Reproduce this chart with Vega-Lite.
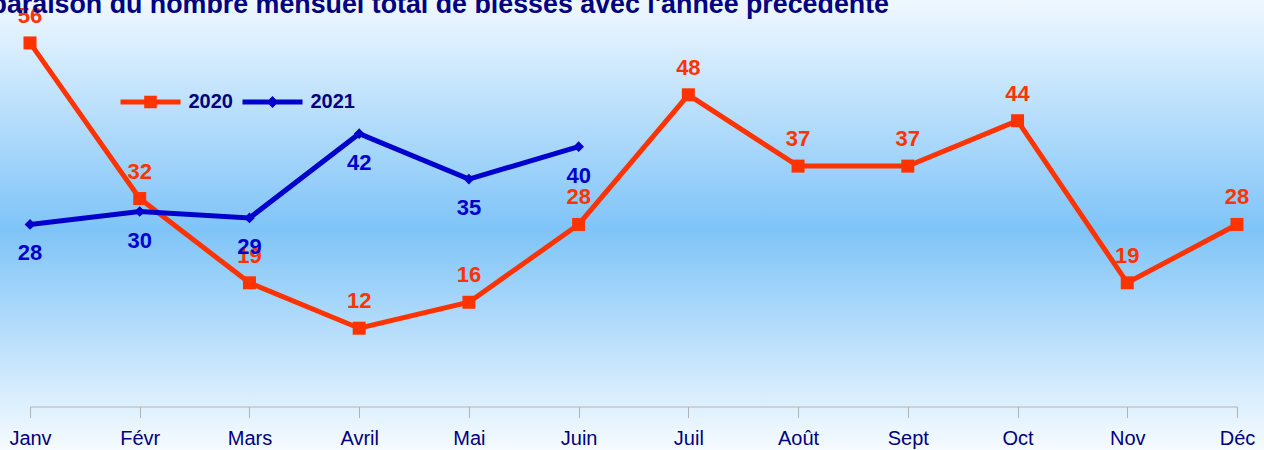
{
  "$schema": "https://vega.github.io/schema/vega-lite/v6.json",
  "width": 1264,
  "height": 450,
  "autosize": {"type": "none"},
  "padding": 0,
  "background": "#f0f8ff",
  "config": {"view": {"stroke": null}, "font": "Liberation Sans"},
  "title": {
    "text": "Comparaison du nombre mensuel total de blessés avec l'année précédente",
    "anchor": "start",
    "frame": "group",
    "dx": -69,
    "dy": 40,
    "offset": 0,
    "baseline": "alphabetic",
    "fontSize": 26.8,
    "fontWeight": "bold",
    "color": "#000080",
    "font": "Liberation Sans",
    "zindex": 2
  },
  "data": {
    "values": [
      {"month": "Janv", "year": "2020", "value": 56},
      {"month": "Févr", "year": "2020", "value": 32},
      {"month": "Mars", "year": "2020", "value": 19},
      {"month": "Avril", "year": "2020", "value": 12},
      {"month": "Mai", "year": "2020", "value": 16},
      {"month": "Juin", "year": "2020", "value": 28},
      {"month": "Juil", "year": "2020", "value": 48},
      {"month": "Août", "year": "2020", "value": 37},
      {"month": "Sept", "year": "2020", "value": 37},
      {"month": "Oct", "year": "2020", "value": 44},
      {"month": "Nov", "year": "2020", "value": 19},
      {"month": "Déc", "year": "2020", "value": 28},
      {"month": "Janv", "year": "2021", "value": 28},
      {"month": "Févr", "year": "2021", "value": 30},
      {"month": "Mars", "year": "2021", "value": 29},
      {"month": "Avril", "year": "2021", "value": 42},
      {"month": "Mai", "year": "2021", "value": 35},
      {"month": "Juin", "year": "2021", "value": 40}
    ]
  },
  "layer": [
    {
      "data": {"values": [{}]},
      "mark": {
        "type": "rect",
        "fill": {
          "gradient": "linear",
          "x1": 0, "y1": 0, "x2": 0, "y2": 1,
          "stops": [
            {"offset": 0, "color": "#f0f8ff"},
            {"offset": 0.51, "color": "#7fc4f8"},
            {"offset": 1, "color": "#f6fbff"}
          ]
        }
      },
      "encoding": {}
    },
    {
      "encoding": {
        "x": {
          "field": "month",
          "type": "ordinal",
          "sort": ["Janv", "Févr", "Mars", "Avril", "Mai", "Juin", "Juil", "Août", "Sept", "Oct", "Nov", "Déc"],
          "scale": {"type": "point", "range": [30, 1237], "padding": 0},
          "axis": {
            "title": null,
            "labelAngle": 0,
            "offset": -43.5,
            "zindex": 1,
            "labelFont": "Liberation Sans",
            "labelFontSize": 20,
            "labelColor": "#000080",
            "labelPadding": 11,
            "domainColor": "#b3b3b3",
            "domainWidth": 1,
            "tickColor": "#b3b3b3",
            "tickSize": 11,
            "tickWidth": 1,
            "grid": false
          }
        },
        "y": {
          "field": "value",
          "type": "quantitative",
          "scale": {"domain": [0, 60], "range": [406, 17], "nice": false, "zero": true},
          "axis": null
        }
      },
      "layer": [
        {
          "mark": {"type": "line", "strokeWidth": 5},
          "encoding": {
            "color": {
              "field": "year",
              "type": "nominal",
              "scale": {"domain": ["2020", "2021"], "range": ["#ff3300", "#0000cc"]},
              "legend": {
                "title": null,
                "orient": "none",
                "legendX": 120.5,
                "legendY": 72,
                "direction": "horizontal",
                "padding": 0,
                "symbolSize": 3600,
                "labelFont": "Liberation Sans",
                "labelFontSize": 20,
                "labelFontWeight": "bold",
                "labelColor": "#000080",
                "labelOffset": 8,
                "columnPadding": 9,
                "encode": {
                  "symbols": {
                    "update": {
                      "shape": {"signal": "datum.value === '2020' ? 'M-1,-0.083H1V0.083H-1Z M-0.21,-0.21H0.21V0.21H-0.21Z' : 'M-1,-0.083H1V0.083H-1Z M-0.2,0L0,-0.2L0.2,0L0,0.2Z'"},
                      "fill": {"signal": "datum.value === '2020' ? '#ff3300' : '#0000cc'"},
                      "size": {"value": 3600},
                      "strokeWidth": {"value": 0},
                      "opacity": {"value": 1}
                    }
                  }
                }
              }
            }
          }
        },
        {
          "transform": [{"filter": "datum.year === '2020'"}],
          "mark": {"type": "point", "filled": true, "opacity": 1, "shape": "square", "size": 169, "color": "#ff3300"}
        },
        {
          "transform": [{"filter": "datum.year === '2021'"}],
          "mark": {"type": "point", "filled": true, "opacity": 1, "shape": "diamond", "size": 115, "color": "#0000cc"}
        },
        {
          "transform": [{"filter": "datum.year === '2020'"}],
          "mark": {"type": "text", "dy": -27, "baseline": "middle", "align": "center", "fontSize": 22, "fontWeight": "bold", "color": "#ff3300", "font": "Liberation Sans"},
          "encoding": {"text": {"field": "value", "type": "quantitative"}}
        },
        {
          "transform": [{"filter": "datum.year === '2021'"}],
          "mark": {"type": "text", "dy": 29, "baseline": "middle", "align": "center", "fontSize": 22, "fontWeight": "bold", "color": "#0000cc", "font": "Liberation Sans"},
          "encoding": {"text": {"field": "value", "type": "quantitative"}}
        }
      ]
    }
  ]
}
